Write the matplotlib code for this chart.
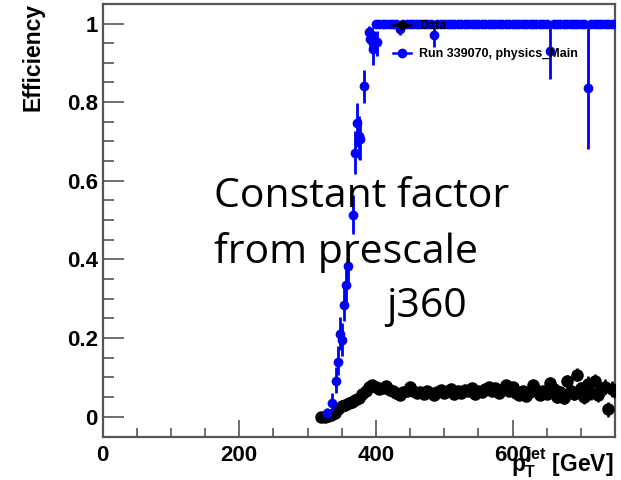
import matplotlib
matplotlib.use("Agg")
import matplotlib.pyplot as plt
from matplotlib.lines import Line2D
import numpy as np

# ---------------- data ----------------
# Data (black): efficiency of prescaled trigger vs jet pT
data_x = [320, 325, 330, 335, 340, 345, 350, 355, 360, 365, 370, 375, 380, 385, 390, 395,
          400, 405, 410, 415, 420, 425, 430, 435, 440, 445, 450, 455, 460, 465, 470, 475,
          480, 485, 490, 495, 500, 505, 510, 515, 520, 525, 530, 535, 540, 545, 550, 555,
          560, 565, 570, 575, 580, 585, 590, 595, 600, 605, 610, 615, 620, 625, 630, 635,
          640, 645, 650, 655, 660, 665, 670, 675, 680, 685, 690, 695, 700, 705, 710, 715,
          720, 725, 730, 735, 740, 745, 750]
data_y = [0.000, 0.000, 0.001, 0.004, 0.010, 0.018, 0.026, 0.030, 0.034, 0.038, 0.042, 0.048,
          0.058, 0.066, 0.074, 0.080, 0.076, 0.070, 0.073, 0.077, 0.068, 0.064, 0.060, 0.056,
          0.062, 0.066, 0.074, 0.064, 0.060, 0.063, 0.058, 0.066, 0.060, 0.056, 0.062, 0.067,
          0.060, 0.064, 0.070, 0.057, 0.066, 0.061, 0.068, 0.064, 0.072, 0.058, 0.066, 0.062,
          0.070, 0.076, 0.064, 0.072, 0.060, 0.068, 0.080, 0.066, 0.074, 0.060, 0.056, 0.066,
          0.052, 0.062, 0.081, 0.068, 0.055, 0.064, 0.058, 0.086, 0.070, 0.050, 0.062, 0.048,
          0.090, 0.066, 0.058, 0.107, 0.072, 0.050, 0.084, 0.060, 0.090, 0.055, 0.068, 0.076,
          0.018, 0.070, 0.064]
data_err = [0.003, 0.003, 0.003, 0.003, 0.004, 0.004, 0.004, 0.004, 0.004, 0.004, 0.005, 0.005,
            0.005, 0.005, 0.006, 0.006, 0.006, 0.006, 0.006, 0.006, 0.006, 0.006, 0.006, 0.006,
            0.007, 0.007, 0.007, 0.007, 0.007, 0.007, 0.007, 0.007, 0.008, 0.008, 0.008, 0.008,
            0.008, 0.008, 0.008, 0.008, 0.009, 0.009, 0.009, 0.009, 0.009, 0.009, 0.010, 0.010,
            0.010, 0.010, 0.010, 0.010, 0.011, 0.011, 0.011, 0.011, 0.012, 0.012, 0.012, 0.012,
            0.013, 0.013, 0.013, 0.013, 0.014, 0.014, 0.014, 0.014, 0.015, 0.015, 0.015, 0.015,
            0.016, 0.016, 0.016, 0.017, 0.017, 0.017, 0.018, 0.018, 0.018, 0.019, 0.019, 0.019,
            0.020, 0.020, 0.020]

# Run 339070, physics_Main (blue)
run_x = [329, 336, 341, 344, 348, 351, 353, 357, 359, 367, 370, 373, 375, 377, 383, 390,
         392, 394, 396, 400, 402, 405, 410, 415, 420, 425, 430, 435, 440, 445, 450, 455,
         460, 465, 470, 475, 480, 485, 490, 495, 500, 505, 510, 515, 520, 525, 530, 535,
         540, 545, 550, 555, 560, 565, 570, 575, 580, 585, 590, 595, 600, 605, 610, 615,
         620, 625, 630, 635, 640, 645, 650, 655, 660, 665, 670, 675, 680, 685, 690, 695,
         700, 705, 710, 715, 720, 725, 730, 735, 740, 745, 750]
run_y = [0.008, 0.035, 0.090, 0.140, 0.209, 0.194, 0.283, 0.336, 0.382, 0.514, 0.671, 0.747,
         0.715, 0.707, 0.842, 0.979, 0.960, 0.970, 0.934, 1.000, 0.952, 1.000, 1.000, 1.000,
         1.000, 1.000, 1.000, 0.987, 1.000, 1.000, 1.000, 1.000, 1.000, 1.000, 1.000, 1.000,
         1.000, 0.970, 1.000, 1.000, 1.000, 1.000, 1.000, 1.000, 1.000, 1.000, 1.000, 1.000,
         1.000, 1.000, 1.000, 1.000, 1.000, 1.000, 1.000, 1.000, 1.000, 1.000, 1.000, 1.000,
         1.000, 1.000, 1.000, 1.000, 1.000, 1.000, 1.000, 1.000, 1.000, 1.000, 1.000, 0.930,
         1.000, 1.000, 1.000, 1.000, 1.000, 1.000, 1.000, 1.000, 1.000, 1.000, 0.837, 1.000,
         1.000, 1.000, 1.000, 1.000, 1.000, 1.000, 1.000]
run_err_lo = [0.008, 0.020, 0.030, 0.035, 0.040, 0.040, 0.040, 0.045, 0.045, 0.050, 0.055, 0.060,
              0.060, 0.055, 0.045, 0.030, 0.030, 0.030, 0.040, 0.010, 0.035, 0.006, 0.006, 0.006,
              0.006, 0.006, 0.006, 0.015, 0.006, 0.006, 0.006, 0.006, 0.006, 0.006, 0.006, 0.006,
              0.006, 0.030, 0.006, 0.006, 0.006, 0.006, 0.006, 0.006, 0.006, 0.006, 0.006, 0.006,
              0.006, 0.006, 0.006, 0.006, 0.006, 0.006, 0.006, 0.006, 0.006, 0.006, 0.006, 0.006,
              0.006, 0.006, 0.006, 0.006, 0.006, 0.006, 0.006, 0.006, 0.006, 0.006, 0.006, 0.070,
              0.006, 0.006, 0.006, 0.006, 0.006, 0.006, 0.006, 0.006, 0.006, 0.006, 0.155, 0.006,
              0.006, 0.006, 0.006, 0.006, 0.006, 0.006, 0.006]
run_err_hi = [0.015, 0.025, 0.035, 0.040, 0.045, 0.045, 0.045, 0.045, 0.045, 0.050, 0.055, 0.050,
              0.050, 0.050, 0.040, 0.015, 0.025, 0.020, 0.030, 0.000, 0.030, 0.000, 0.000, 0.000,
              0.000, 0.000, 0.000, 0.010, 0.000, 0.000, 0.000, 0.000, 0.000, 0.000, 0.000, 0.000,
              0.000, 0.025, 0.000, 0.000, 0.000, 0.000, 0.000, 0.000, 0.000, 0.000, 0.000, 0.000,
              0.000, 0.000, 0.000, 0.000, 0.000, 0.000, 0.000, 0.000, 0.000, 0.000, 0.000, 0.000,
              0.000, 0.000, 0.000, 0.000, 0.000, 0.000, 0.000, 0.000, 0.000, 0.000, 0.000, 0.070,
              0.000, 0.000, 0.000, 0.000, 0.000, 0.000, 0.000, 0.000, 0.000, 0.000, 0.163, 0.000,
              0.000, 0.000, 0.000, 0.000, 0.000, 0.000, 0.000]

x_ticks = [0, 200, 400, 600]
y_ticks = [0, 0.2, 0.4, 0.6, 0.8, 1.0]
y_tick_labels = ["0", "0.2", "0.4", "0.6", "0.8", "1"]
labels = ["Data", "Run 339070, physics_Main"]

# ---------------- figure ----------------
W, H = 621, 480
plt.rcParams["font.family"] = ["Liberation Sans", "DejaVu Sans"]
plt.rcParams["mathtext.fontset"] = "custom"
plt.rcParams["mathtext.rm"] = "Liberation Sans:bold"
plt.rcParams["mathtext.it"] = "Liberation Sans:bold"
plt.rcParams["mathtext.bf"] = "Liberation Sans:bold"

fig = plt.figure(figsize=(W / 100, H / 100), dpi=100)
ax = fig.add_axes([102.5 / W, 1 - 437 / H, (615 - 102.5) / W, (437 - 3.5) / H])

frame_col = "#555555"
blue = "#0000ff"
ax.errorbar(data_x, data_y, yerr=data_err, xerr=2.5, fmt="o", color="black",
            ms=8, elinewidth=1.8, capsize=0, zorder=3)
ax.errorbar(run_x, run_y, yerr=[run_err_lo, run_err_hi], xerr=1.5, fmt="o",
            color=blue, ms=6, elinewidth=2, capsize=0, zorder=4)

ax.set_xlim(0, 750)
ax.set_ylim(-0.052, 1.051)

ax.set_xticks(x_ticks)
ax.set_xticklabels([str(v) for v in x_ticks])
ax.set_xticks([50, 100, 150, 250, 300, 350, 450, 500, 550, 650, 700], minor=True)
ax.set_yticks(y_ticks)
ax.set_yticklabels(y_tick_labels)
ax.set_yticks([0.05, 0.1, 0.15, 0.25, 0.3, 0.35, 0.45, 0.5, 0.55, 0.65, 0.7, 0.75,
               0.85, 0.9, 0.95], minor=True)

ax.tick_params(axis="both", which="both", direction="in", color=frame_col, width=1.2,
               top=False, right=False)
ax.tick_params(axis="y", which="major", length=15, pad=3.5, labelsize=16)
ax.tick_params(axis="y", which="minor", length=8)
ax.tick_params(axis="x", which="major", length=12, pad=6, labelsize=16)
ax.tick_params(axis="x", which="minor", length=6.5)
for lab in ax.get_xticklabels() + ax.get_yticklabels():
    lab.set_fontweight("bold")
for sp in ax.spines.values():
    sp.set_color(frame_col)
    sp.set_linewidth(1.6)

# axis titles (ROOT style: aligned to axis ends)
fig.text(32.5 / W, 1 - 3 / H, "Efficiency", rotation=90, ha="center", va="top",
         fontsize=16.5, fontweight="bold")
fig.text(613 / W, 1 - 472 / H, r"$p_{T}^{jet}$ [GeV]", ha="right", va="baseline",
         fontsize=16.5, fontweight="bold")

# legend
handles = [Line2D([], [], color="black", marker="o", ms=6, lw=1.8),
           Line2D([], [], color=blue, marker="o", ms=6, lw=1.8)]
leg = ax.legend(handles, labels, loc="upper left", frameon=False,
                bbox_to_anchor=(393 / W, 1 - 20 / H), bbox_transform=fig.transFigure,
                prop={"family": "Liberation Sans", "weight": "bold", "size": 9},
                handlelength=1.45, handletextpad=0.65, labelspacing=1.3, borderpad=0,
                borderaxespad=0)
leg.set_zorder(10)

# overlay annotation
ann_font = {"family": ["Open Sans", "DejaVu Sans"], "size": 29.5}
fig.text(214 / W, 1 - 206.7 / H, "Constant factor", va="baseline", ha="left", **ann_font)
fig.text(214 / W, 1 - 263 / H, "from prescale", va="baseline", ha="left", **ann_font)
fig.text(386 / W, 1 - 316.7 / H, "j360", va="baseline", ha="left", **ann_font)

fig.savefig("out.png", dpi=100)
